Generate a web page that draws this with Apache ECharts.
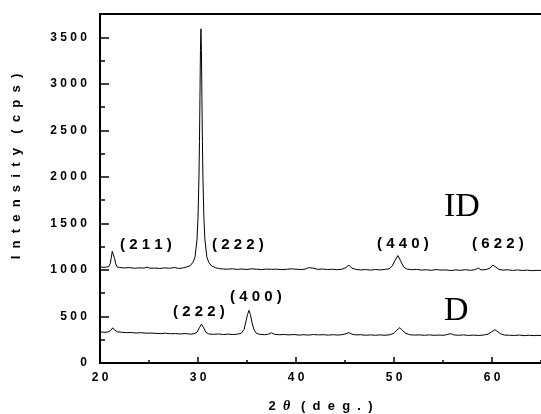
<!DOCTYPE html>
<html>
<head>
<meta charset="utf-8">
<script src="https://cdn.jsdelivr.net/npm/echarts@6/dist/echarts.min.js"></script>
<style>
    html, body { margin: 0; padding: 0; background: #fff; }
    #chart { width: 541px; height: 414px; }
</style>
</head>
<body>
<div id="chart"></div>
<script>
    // 2theta (deg) / intensity (cps)
    var idPattern = [
        [20.0, 1035], [20.3, 1028], [20.6, 1030], [20.9, 1036], [21.05, 1070], [21.15, 1130],
        [21.25, 1200], [21.32, 1218], [21.4, 1190], [21.5, 1120], [21.6, 1065], [21.75, 1034],
        [22.0, 1026], [22.5, 1022], [23.0, 1025], [23.5, 1018], [24.0, 1022], [24.5, 1020],
        [24.8, 1030], [25.1, 1018], [25.6, 1020], [26.1, 1016], [26.6, 1022], [27.1, 1018],
        [27.6, 1026], [28.0, 1016], [28.4, 1020], [28.8, 1030], [29.2, 1045], [29.5, 1085],
        [29.7, 1140], [29.9, 1330], [30.0, 1560], [30.1, 2010], [30.15, 2380], [30.2, 2860],
        [30.25, 3360], [30.3, 3590], [30.35, 3360], [30.4, 2860], [30.45, 2380], [30.5, 2010],
        [30.6, 1560], [30.7, 1330], [30.9, 1140], [31.1, 1080], [31.4, 1042], [31.8, 1024],
        [32.2, 1014], [32.6, 1010], [33.0, 1008], [33.5, 1012], [34.0, 1006], [34.5, 1010],
        [35.0, 1005], [35.5, 1012], [36.0, 1008], [36.5, 1004], [37.0, 1010], [37.5, 1006],
        [38.0, 1008], [38.5, 1004], [39.0, 1006], [39.5, 1012], [40.0, 1008], [40.5, 1004],
        [41.0, 1010], [41.3, 1025], [41.5, 1044], [41.8, 1018], [42.2, 1006], [42.7, 1010],
        [43.2, 1004], [43.7, 1008], [44.2, 1002], [44.7, 1008], [45.1, 1025], [45.4, 1052],
        [45.7, 1020], [46.1, 1006], [46.6, 1000], [47.1, 1004], [47.6, 998], [48.1, 1004],
        [48.6, 1000], [49.1, 1006], [49.5, 1012], [49.8, 1040], [50.1, 1100], [50.4, 1155],
        [50.7, 1090], [51.0, 1030], [51.3, 1010], [51.8, 1002], [52.3, 1006], [52.8, 998],
        [53.3, 1002], [53.8, 996], [54.3, 1004], [54.8, 998], [55.3, 1000], [55.8, 994],
        [56.3, 1000], [56.8, 996], [57.3, 1002], [57.8, 996], [58.3, 1004], [58.6, 1020],
        [58.9, 1000], [59.4, 1004], [59.8, 1020], [60.1, 1052], [60.4, 1030], [60.7, 1006],
        [61.1, 998], [61.6, 1002], [62.1, 994], [62.6, 1000], [63.1, 994], [63.6, 998],
        [64.1, 992], [64.6, 996], [65.0, 994]
    ];
    var dPattern = [
        [20.0, 335], [20.4, 330], [20.8, 332], [21.1, 350], [21.3, 378], [21.5, 352],
        [21.8, 335], [22.2, 330], [22.7, 326], [23.2, 328], [23.7, 322], [24.2, 326],
        [24.7, 320], [25.2, 322], [25.7, 318], [26.2, 316], [26.7, 320], [27.2, 314],
        [27.7, 316], [28.2, 312], [28.7, 316], [29.2, 310], [29.6, 314], [29.9, 330],
        [30.15, 380], [30.35, 418], [30.55, 385], [30.8, 330], [31.1, 312], [31.6, 308],
        [32.1, 312], [32.6, 306], [33.1, 310], [33.6, 306], [34.0, 310], [34.4, 318],
        [34.7, 360], [34.9, 450], [35.05, 520], [35.2, 565], [35.35, 520], [35.5, 440],
        [35.7, 360], [35.95, 320], [36.3, 308], [36.8, 304], [37.2, 310], [37.5, 325],
        [37.8, 308], [38.3, 304], [38.8, 306], [39.3, 302], [39.8, 306], [40.3, 300],
        [40.8, 304], [41.3, 300], [41.8, 306], [42.3, 302], [42.8, 304], [43.3, 300],
        [43.8, 304], [44.3, 300], [44.8, 306], [45.1, 315], [45.4, 326], [45.7, 310],
        [46.1, 302], [46.6, 304], [47.1, 298], [47.6, 302], [48.1, 298], [48.6, 302],
        [49.1, 298], [49.6, 304], [50.0, 320], [50.3, 355], [50.6, 380], [50.9, 345],
        [51.2, 318], [51.6, 304], [52.1, 300], [52.6, 302], [53.1, 298], [53.6, 302],
        [54.1, 298], [54.6, 300], [55.1, 298], [55.5, 308], [55.8, 315], [56.1, 302],
        [56.6, 298], [57.1, 302], [57.6, 296], [58.1, 300], [58.6, 296], [59.1, 300],
        [59.6, 310], [59.95, 335], [60.3, 358], [60.6, 335], [60.9, 312], [61.3, 300],
        [61.8, 298], [62.3, 296], [62.8, 300], [63.3, 294], [63.8, 298], [64.3, 294],
        [64.7, 297], [65.0, 295]
    ];
    var peakLabels = [
        { text: '( 2 1 1 )', left: 120, top: 237 },
        { text: '( 2 2 2 )', left: 212, top: 237 },
        { text: '( 4 4 0 )', left: 377, top: 236 },
        { text: '( 6 2 2 )', left: 472, top: 236 },
        { text: '( 2 2 2 )', left: 173, top: 304 },
        { text: '( 4 0 0 )', left: 230, top: 289 }
    ];
    var sampleLabels = [
        { text: 'ID', left: 444, top: 190 },
        { text: 'D', left: 444, top: 294 }
    ];

    var xMin = 20, xMax = 65, yMin = 0, yMax = 3750;

    function spaced(v) {
        return String(v).split('').join(' ');
    }

    var tickFont = { fontFamily: 'Liberation Sans', fontWeight: 'bold', fontSize: 12, color: '#000' };
    var frameLine = { show: true, onZero: false, lineStyle: { color: '#000', width: 2 } };

    var chart = echarts.init(document.getElementById('chart'));
    var graphics = [];
    peakLabels.forEach(function (p) {
        graphics.push({
            type: 'text', left: p.left, top: p.top,
            style: { text: p.text, font: 'bold 15px "Liberation Sans"', fill: '#000' }
        });
    });
    sampleLabels.forEach(function (p) {
        graphics.push({
            type: 'text', left: p.left, top: p.top,
            style: { text: p.text, font: '34px "Liberation Serif"', fill: '#000' }
        });
    });

    chart.setOption({
        animation: false,
        backgroundColor: '#fff',
        grid: { left: 100, top: 14, right: 0, bottom: 51, containLabel: false, outerBoundsMode: 'none' },
        xAxis: [
            {
                type: 'value', position: 'bottom', min: xMin, max: xMax, interval: 5,
                axisLine: frameLine,
                axisTick: { show: true, inside: true, length: 3, lineStyle: { color: '#000', width: 1.5 } },
                axisLabel: { show: false },
                splitLine: { show: false }
            },
            {
                type: 'value', position: 'bottom', min: xMin, max: xMax, interval: 10,
                axisLine: frameLine,
                axisTick: { show: true, inside: true, length: 6, lineStyle: { color: '#000', width: 1.5 } },
                axisLabel: Object.assign({ margin: 9, showMaxLabel: false, formatter: spaced }, tickFont),
                splitLine: { show: false },
                name: '{n|2  }{t|θ}{n|   (  d  e  g  .  )}',
                nameLocation: 'middle',
                nameGap: 36,
                nameTextStyle: {
                    rich: {
                        n: { fontFamily: 'Liberation Sans', fontWeight: 'bold', fontSize: 13, color: '#000' },
                        t: { fontFamily: 'Liberation Serif', fontStyle: 'italic', fontWeight: 'bold', fontSize: 14, color: '#000' }
                    }
                }
            },
            {
                type: 'value', position: 'top', min: xMin, max: xMax,
                axisLine: frameLine,
                axisTick: { show: false },
                axisLabel: { show: false },
                splitLine: { show: false }
            }
        ],
        yAxis: [
            {
                type: 'value', position: 'left', min: yMin, max: yMax, interval: 250,
                axisLine: frameLine,
                axisTick: { show: true, inside: true, length: 5, lineStyle: { color: '#000', width: 1.5 } },
                axisLabel: { show: false },
                splitLine: { show: false }
            },
            {
                type: 'value', position: 'left', min: yMin, max: yMax, interval: 500,
                axisLine: frameLine,
                axisTick: { show: true, inside: true, length: 9, lineStyle: { color: '#000', width: 1.5 } },
                axisLabel: Object.assign({ margin: 13, showMaxLabel: false, formatter: spaced }, tickFont),
                splitLine: { show: false },
                name: 'I  n  t  e  n  s  i  t  y    (  c  p  s  )',
                nameLocation: 'middle',
                nameGap: 77,
                nameTextStyle: {
                    fontFamily: 'Liberation Sans', fontWeight: 'bold', fontSize: 13, color: '#000',
                    padding: [0, 0, 0, 44]
                }
            }
        ],
        series: [
            {
                name: 'ID', type: 'line', data: idPattern,
                xAxisIndex: 0, yAxisIndex: 0,
                showSymbol: false, symbol: 'none',
                lineStyle: { color: '#000', width: 1 }
            },
            {
                name: 'D', type: 'line', data: dPattern,
                xAxisIndex: 0, yAxisIndex: 0,
                showSymbol: false, symbol: 'none',
                lineStyle: { color: '#000', width: 1 }
            }
        ],
        graphic: graphics
    });
</script>
</body>
</html>
